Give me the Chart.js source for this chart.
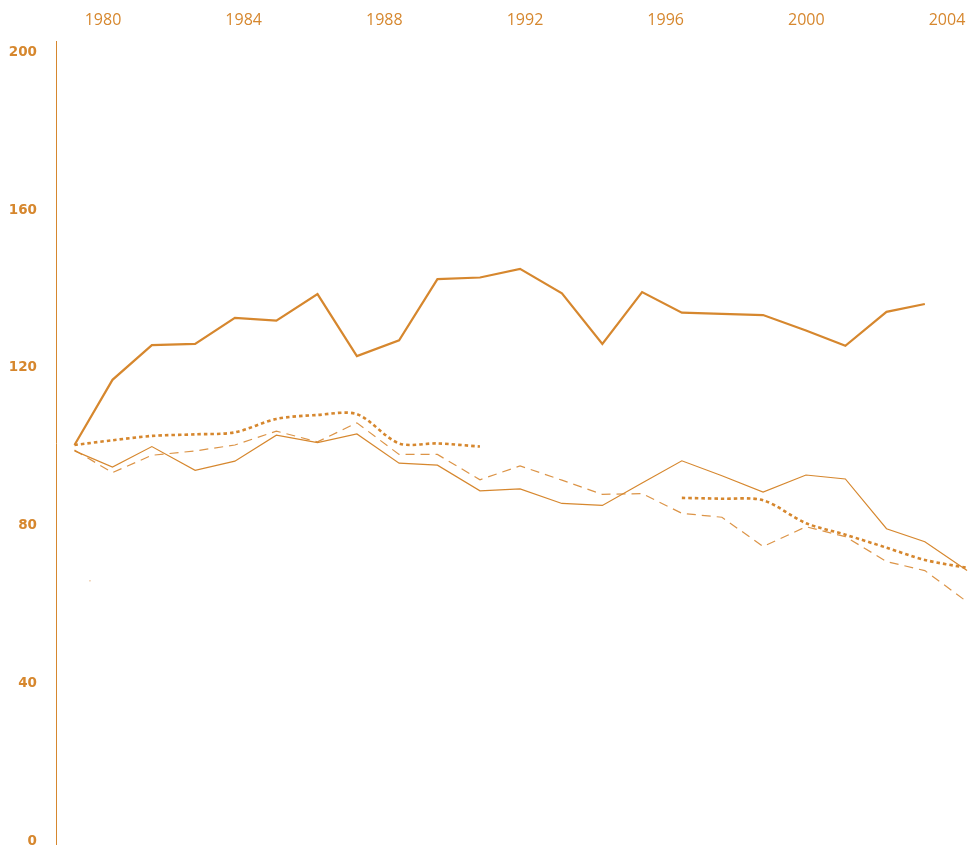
<!DOCTYPE html>
<html>
<head>
<meta charset="utf-8">
<script src="https://cdn.jsdelivr.net/npm/chart.js@4"></script>
<style>
  html, body { margin: 0; padding: 0; background: #fff; overflow: hidden; }
  canvas { display: block; }
</style>
</head>
<body>
<canvas id="c" width="970" height="845"></canvas>
<script>
// x positions of the observations, in years (they are not evenly on whole years)
const periods = [1979.19, 1980.27, 1981.39, 1982.62, 1983.75, 1984.93, 1986.10, 1987.22,
  1988.42, 1989.51, 1990.72, 1991.86, 1993.05, 1994.20, 1995.33, 1996.46, 1997.60,
  1998.77, 1999.99, 2001.11, 2002.28, 2003.37, 2004.57];

const yearTicks = [1980, 1984, 1988, 1992, 1996, 2000, 2004];
const valueTicks = [0, 40, 80, 120, 160, 200];

const seriesThick = [100, 116.5, 125.3, 125.6, 132.2, 131.5, 138.2, 122.5, 126.5, 142.0,
  142.4, 144.6, 138.4, 125.6, 138.7, 133.5, 133.2, 132.9, 129.0, 125.1, 133.7, 135.7, null];

const seriesThin = [98.5, 94.4, 99.6, 93.6, 95.9, 102.5, 100.6, 102.8, 95.4, 94.9,
  88.4, 88.9, 85.2, 84.7, 90.4, 96.0, 92.2, 88.1, 92.4, 91.4, 78.8, 75.5, 68.2];

const seriesDashed = [98.7, 93.0, 97.4, 98.5, 100.0, 103.5, 100.8, 105.6, 97.6, 97.6,
  91.2, 94.7, 91.1, 87.5, 87.7, 82.7, 81.7, 74.3, 79.3, 76.8, 70.5, 68.2, 60.3];

const seriesDotted = [100, 101.2, 102.3, 102.7, 103.2, 106.6, 107.6, 107.8, 100.4, 100.4,
  99.6, null, null, null, null, 86.6, 86.4, 86.0, 80.2, 77.3, 74.0, 70.9, 68.9];

const strayX = [1979.63];
const strayY = [65.6];

const ORANGE = "#d6872e";

function pairs(xs, ys) {
  return xs.map((x, i) => ({ x, y: ys[i] }));
}

// drop the edge padding chart.js reserves for end tick labels
function noEdgePadding(axis) {
  axis.paddingTop = 0;
  axis.paddingBottom = 0;
  axis.paddingLeft = 0;
  axis.paddingRight = 0;
}

new Chart(document.getElementById("c"), {
  type: "line",
  data: {
    datasets: [
      {
        data: pairs(periods, seriesThick),
        borderColor: ORANGE,
        borderWidth: 2.2,
        pointRadius: 0,
        spanGaps: false,
      },
      {
        data: pairs(periods, seriesThin),
        borderColor: ORANGE,
        borderWidth: 1.2,
        pointRadius: 0,
      },
      {
        data: pairs(periods, seriesDashed),
        borderColor: "#dc9447",
        borderWidth: 1.2,
        borderDash: [9, 6],
        pointRadius: 0,
      },
      {
        data: pairs(periods, seriesDotted),
        borderColor: ORANGE,
        borderWidth: 2.6,
        borderDash: [3.5, 3],
        tension: 0.3,
        pointRadius: 0,
        spanGaps: false,
      },
      {
        data: pairs(strayX, strayY),
        showLine: false,
        pointRadius: 0.8,
        pointBackgroundColor: "rgba(225,150,80,0.6)",
        pointBorderWidth: 0,
      },
    ],
  },
  options: {
    responsive: false,
    animation: false,
    layout: { padding: 0, autoPadding: false },
    plugins: {
      legend: { display: false },
      tooltip: { enabled: false },
    },
    scales: {
      x: {
        type: "linear",
        position: "top",
        min: 1978.664,
        max: 2004.654,
        afterBuildTicks: (axis) => { axis.ticks = yearTicks.map((v) => ({ value: v })); },
        afterFit: (axis) => { axis.height = 41; noEdgePadding(axis); },
        grid: { display: false, drawTicks: false },
        border: { display: false },
        ticks: {
          color: ORANGE,
          padding: 11,
          maxRotation: 0,
          font: { family: "'Open Sans'", size: 16 },
          callback: (v) => String(v),
        },
      },
      y: {
        min: -1.27,
        max: 202.28,
        afterBuildTicks: (axis) => { axis.ticks = valueTicks.map((v) => ({ value: v })); },
        afterFit: (axis) => { axis.width = 56; noEdgePadding(axis); },
        grid: { display: false, drawTicks: false },
        border: { display: true, color: ORANGE, width: 1 },
        ticks: {
          color: ORANGE,
          padding: 19,
          labelOffset: 2,
          font: { family: "'DejaVu Sans'", size: 13.5, weight: "bold" },
        },
      },
    },
  },
});
</script>
</body>
</html>
